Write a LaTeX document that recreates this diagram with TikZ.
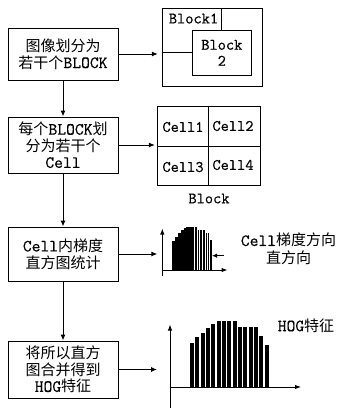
\documentclass[tikz,border=0pt]{standalone}
\usepackage{fontspec}
\setmonofont{Latin Modern Mono}[Scale=1.14, FakeBold=0.5]
\newfontfamily\zhfont{Noto Sans CJK SC}
\newcommand{\zh}[1]{{\zhfont #1}}
\usetikzlibrary{arrows.meta}
\begin{document}
\begin{tikzpicture}[x=1pt,y=-1pt,
  every node/.style={inner sep=0pt, text=black},
  box/.style={draw=black, line width=1pt, minimum width=110pt, align=center,
    font=\ttfamily\fontsize{15}{16.6}\selectfont},
  frame/.style={draw=black, line width=1pt},
  lbl/.style={font=\ttfamily\fontsize{14}{14}\selectfont, align=center},
  arr/.style={-{Latex[length=6pt,width=5pt]}, line width=1pt},
  axis/.style={-{Latex[length=6pt,width=4.5pt]}, line width=1pt}]
\useasboundingbox (0,0) rectangle (338,410);
% left flow boxes
\node[box, minimum height=52pt] (b1) at (63,54) {\zh{图像划分为}\\\zh{若干个}BLOCK};
\node[box, minimum height=56pt] (b2) at (63,145) {\zh{每个}BLOCK\zh{划}\\\zh{分为若干个}\\Cell};
\node[box, minimum height=54pt] (b3) at (63,254) {Cell\zh{内梯度}\\\zh{直方图统计}};
\node[box, minimum height=57pt] (b4) at (63,369.5) {\zh{将所以直方}\\\zh{图合并得到}\\HOG\zh{特征}};
\draw[arr] (b1) -- (b2);
\draw[arr] (b2) -- (b3);
\draw[arr] (b3) -- (b4);
% block diagram
\node[frame, minimum width=100pt, minimum height=78.4pt] (blk) at (212.3,47.5) {};
\node[frame, lbl, minimum width=58.3pt, minimum height=44.3pt] (blk2) at (221.85,52.85) {Block\\[2pt]2};
\node[lbl] (blk1) at (193.5,18.5) {Block1};
\draw[line width=1pt] (blk2.north) -- (blk2.north |- blk.north);
\draw[line width=1pt] (blk2.west) -- (blk2.west -| blk.west);
\draw[arr, shorten >=4pt] (b1.east) -- (b1.east -| blk.west);
% cell grid
\node[frame, minimum width=102.7pt, minimum height=78.3pt] (grid) at (208.7,146) {};
\draw[line width=1pt] (grid.north) -- (grid.south);
\draw[line width=1pt] (grid.west) -- (grid.east);
\node[lbl] (c1) at (183,127) {Cell1};
\node[lbl] (c2) at (233,126) {Cell2};
\node[lbl] (c3) at (183,167) {Cell3};
\node[lbl] (c4) at (233,165) {Cell4};
\node[lbl] (blkname) at (209,198.5) {Block};
\draw[arr, shorten >=2pt] (b2.east) -- (b2.east -| grid.west);
% small histogram
\coordinate (o1) at (162.3,270);
\coordinate (o1b) at (162.3,275.5);
\coordinate (o1t) at (162.3,228.5);
\coordinate (o1r) at (227.5,270);
\foreach \x/\t in {172.3/240.7,175.1/236.5,177.9/232.5,180.7/229.5,183.5/227.5,186.3/226.7,189.1/226.7,191.9/226.7,194.7/226.7,197.5/230,200.3/230,203.1/230,205.9/233,208.7/240}
  \fill[black] (\x,270) rectangle (\x+3,\t);
\foreach \x in {194.2,196.9,199.4,201.8,205,207.4,209.4}
  \draw[white, line width=0.45pt] (\x,269.5) -- (\x,226);
\draw[axis] (o1b) -- (o1t);
\draw[axis] (o1) -- (o1r);
\coordinate (pa) at (223.5,255.7);
\coordinate (pb) at (212,255.7);
\draw[-{Latex[length=5pt,width=4.5pt]}, line width=1pt] (pa) -- (pb);
\draw[arr, shorten >=5pt] (b3.east) -- (b3.east -| o1);
\node[font=\ttfamily\fontsize{15}{17.5}\selectfont, align=center] (t1) at (288.5,249) {Cell\zh{梯度方向}\\\zh{直方向}};
% big histogram
\coordinate (o2) at (170,387);
\coordinate (o2b) at (170,407.5);
\coordinate (o2t) at (170,324.5);
\coordinate (o2r) at (301,387);
\foreach \t [count=\i from 0] in {343,337,333,328,324,321,321,321,321,327,327,327,327,336,345}
  \fill[black] (190+\i*5.33,387) rectangle (190+\i*5.33+4.1,\t);
\draw[axis] (o2b) -- (o2t);
\draw[axis] (o2) -- (o2r);
\draw[arr, shorten >=13pt] (b4.east) -- (b4.east -| o2);
\node[font=\ttfamily\fontsize{15}{15}\selectfont] (t2) at (306,325.5) {HOG\zh{特征}};
\end{tikzpicture}
\end{document}
